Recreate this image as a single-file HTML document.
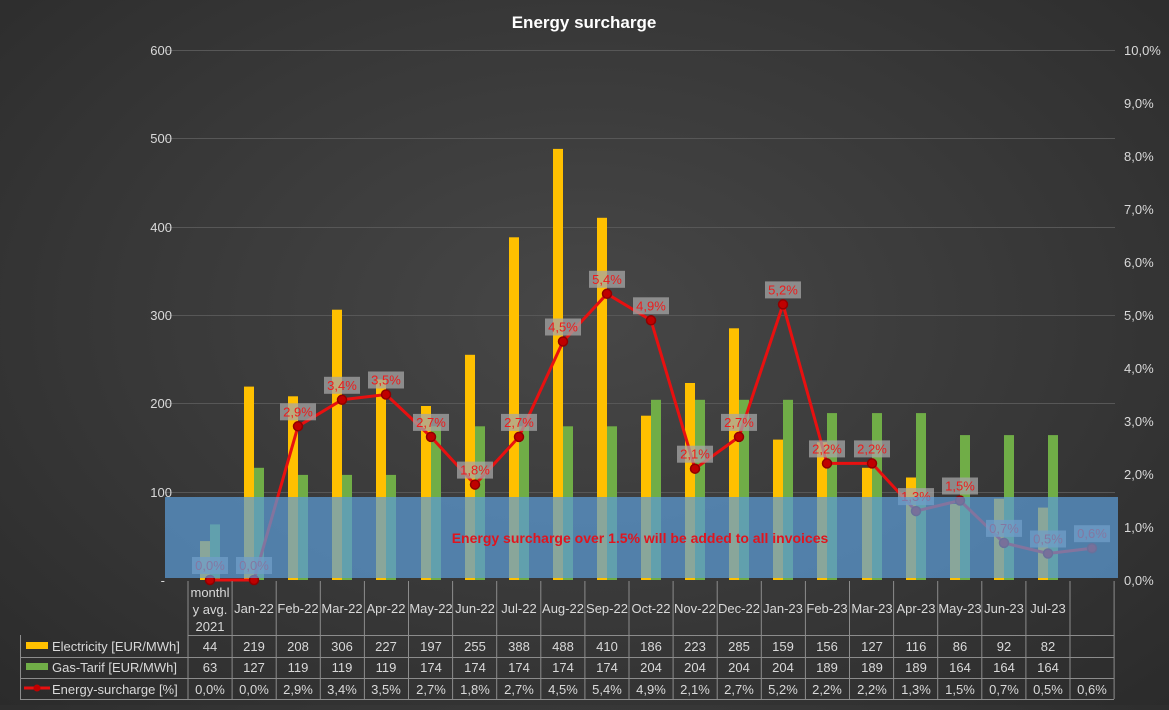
<!DOCTYPE html>
<html><head><meta charset="utf-8"><style>
html,body{margin:0;padding:0;}
body{width:1169px;height:705px;overflow:hidden;background:radial-gradient(ellipse at 50% 45%,#474747 0%,#383838 55%,#2b2b2b 100%);font-family:"Liberation Sans",sans-serif;}
</style></head><body>
<svg width="1169" height="705" xmlns="http://www.w3.org/2000/svg" font-family="Liberation Sans, sans-serif">
<text x="584" y="28" fill="#ffffff" font-size="17" font-weight="bold" text-anchor="middle">Energy surcharge</text>
<g stroke="#575757" stroke-width="1">
<line x1="165" y1="50.5" x2="1115" y2="50.5"/><line x1="165" y1="138.5" x2="1115" y2="138.5"/>
<line x1="165" y1="227.5" x2="1115" y2="227.5"/><line x1="165" y1="315.5" x2="1115" y2="315.5"/>
<line x1="165" y1="403.5" x2="1115" y2="403.5"/><line x1="165" y1="492.5" x2="1115" y2="492.5"/>
</g>
<g fill="#d9d9d9" font-size="13" text-anchor="end">
<text x="172" y="55">600</text><text x="172" y="143">500</text><text x="172" y="232">400</text>
<text x="172" y="320">300</text><text x="172" y="408">200</text><text x="172" y="497">100</text><text x="165" y="585">-</text>
</g>
<g fill="#d9d9d9" font-size="13">
<text x="1124" y="55">10,0%</text><text x="1124" y="108">9,0%</text><text x="1124" y="161">8,0%</text>
<text x="1124" y="214">7,0%</text><text x="1124" y="267">6,0%</text><text x="1124" y="320">5,0%</text>
<text x="1124" y="373">4,0%</text><text x="1124" y="426">3,0%</text><text x="1124" y="479">2,0%</text>
<text x="1124" y="532">1,0%</text><text x="1124" y="585">0,0%</text>
</g>
<g fill="#ffc000">
<rect x="200" y="541.1" width="10" height="38.9"/>
<rect x="244" y="386.6" width="10" height="193.4"/>
<rect x="288" y="396.3" width="10" height="183.7"/>
<rect x="332" y="309.7" width="10" height="270.3"/>
<rect x="376" y="379.5" width="10" height="200.5"/>
<rect x="421" y="406" width="10" height="174"/>
<rect x="465" y="354.8" width="10" height="225.2"/>
<rect x="509" y="237.3" width="10" height="342.7"/>
<rect x="553" y="148.9" width="10" height="431.1"/>
<rect x="597" y="217.8" width="10" height="362.2"/>
<rect x="641" y="415.7" width="10" height="164.3"/>
<rect x="685" y="383" width="10" height="197"/>
<rect x="729" y="328.3" width="10" height="251.7"/>
<rect x="773" y="439.6" width="10" height="140.4"/>
<rect x="817" y="442.2" width="10" height="137.8"/>
<rect x="862" y="467.8" width="10" height="112.2"/>
<rect x="906" y="477.5" width="10" height="102.5"/>
<rect x="950" y="504" width="10" height="76"/>
<rect x="994" y="498.7" width="10" height="81.3"/>
<rect x="1038" y="507.6" width="10" height="72.4"/>
</g>
<g fill="#70ad47">
<rect x="210" y="524.4" width="10" height="55.6"/>
<rect x="254" y="467.8" width="10" height="112.2"/>
<rect x="298" y="474.9" width="10" height="105.1"/>
<rect x="342" y="474.9" width="10" height="105.1"/>
<rect x="386" y="474.9" width="10" height="105.1"/>
<rect x="431" y="426.3" width="10" height="153.7"/>
<rect x="475" y="426.3" width="10" height="153.7"/>
<rect x="519" y="426.3" width="10" height="153.7"/>
<rect x="563" y="426.3" width="10" height="153.7"/>
<rect x="607" y="426.3" width="10" height="153.7"/>
<rect x="651" y="399.8" width="10" height="180.2"/>
<rect x="695" y="399.8" width="10" height="180.2"/>
<rect x="739" y="399.8" width="10" height="180.2"/>
<rect x="783" y="399.8" width="10" height="180.2"/>
<rect x="827" y="413.1" width="10" height="166.9"/>
<rect x="872" y="413.1" width="10" height="166.9"/>
<rect x="916" y="413.1" width="10" height="166.9"/>
<rect x="960" y="435.1" width="10" height="144.9"/>
<rect x="1004" y="435.1" width="10" height="144.9"/>
<rect x="1048" y="435.1" width="10" height="144.9"/>
</g>
<polyline points="210,580 254,580 298,426.3 342,399.8 386,394.5 431,436.9 475,484.6 519,436.9 563,341.5 607,293.8 651,320.3 695,468.7 739,436.9 783,304.4 827,463.4 872,463.4 916,511.1 960,500.5 1004,542.9 1048,553.5 1092,548.2" fill="none" stroke="#e81010" stroke-width="3" stroke-linejoin="round"/>
<g fill="#c00000" stroke="#900000" stroke-width="1.5">
<circle cx="210" cy="580" r="4.5"/><circle cx="254" cy="580" r="4.5"/><circle cx="298" cy="426.3" r="4.5"/>
<circle cx="342" cy="399.8" r="4.5"/><circle cx="386" cy="394.5" r="4.5"/><circle cx="431" cy="436.9" r="4.5"/>
<circle cx="475" cy="484.6" r="4.5"/><circle cx="519" cy="436.9" r="4.5"/><circle cx="563" cy="341.5" r="4.5"/>
<circle cx="607" cy="293.8" r="4.5"/><circle cx="651" cy="320.3" r="4.5"/><circle cx="695" cy="468.7" r="4.5"/>
<circle cx="739" cy="436.9" r="4.5"/><circle cx="783" cy="304.4" r="4.5"/><circle cx="827" cy="463.4" r="4.5"/>
<circle cx="872" cy="463.4" r="4.5"/><circle cx="916" cy="511.1" r="4.5"/><circle cx="960" cy="500.5" r="4.5"/>
<circle cx="1004" cy="542.9" r="4.5"/><circle cx="1048" cy="553.5" r="4.5"/><circle cx="1092" cy="548.2" r="4.5"/>
</g>
<g fill="#a6a6a6" fill-opacity="0.75">
<rect x="192" y="557" width="36" height="17"/><rect x="236" y="557" width="36" height="17"/>
<rect x="280" y="403.3" width="36" height="17"/><rect x="324" y="376.8" width="36" height="17"/>
<rect x="368" y="371.5" width="36" height="17"/><rect x="413" y="413.9" width="36" height="17"/>
<rect x="457" y="461.6" width="36" height="17"/><rect x="501" y="413.9" width="36" height="17"/>
<rect x="545" y="318.5" width="36" height="17"/><rect x="589" y="270.8" width="36" height="17"/>
<rect x="633" y="297.3" width="36" height="17"/><rect x="677" y="445.7" width="36" height="17"/>
<rect x="721" y="413.9" width="36" height="17"/><rect x="765" y="281.4" width="36" height="17"/>
<rect x="809" y="440.4" width="36" height="17"/><rect x="854" y="440.4" width="36" height="17"/>
<rect x="898" y="488.1" width="36" height="17"/><rect x="942" y="477.5" width="36" height="17"/>
<rect x="986" y="519.9" width="36" height="17"/><rect x="1030" y="530.5" width="36" height="17"/>
<rect x="1074" y="525.2" width="36" height="17"/>
</g>
<g fill="#ee1c1c" font-size="13" text-anchor="middle">
<text x="210" y="570">0,0%</text><text x="254" y="570">0,0%</text><text x="298" y="416.3">2,9%</text>
<text x="342" y="389.8">3,4%</text><text x="386" y="384.5">3,5%</text><text x="431" y="426.9">2,7%</text>
<text x="475" y="474.6">1,8%</text><text x="519" y="426.9">2,7%</text><text x="563" y="331.5">4,5%</text>
<text x="607" y="283.8">5,4%</text><text x="651" y="310.3">4,9%</text><text x="695" y="458.7">2,1%</text>
<text x="739" y="426.9">2,7%</text><text x="783" y="294.4">5,2%</text><text x="827" y="453.4">2,2%</text>
<text x="872" y="453.4">2,2%</text><text x="916" y="501.1">1,3%</text><text x="960" y="490.5">1,5%</text>
<text x="1004" y="532.9">0,7%</text><text x="1048" y="543.5">0,5%</text><text x="1092" y="538.2">0,6%</text>
</g>
<rect x="165" y="497" width="953" height="81" fill="#5b9bd5" fill-opacity="0.72"/>
<text x="640" y="543" fill="#e0141e" font-size="14" font-weight="bold" text-anchor="middle">Energy surcharge over 1.5% will be added to all invoices</text>
<g stroke="#8c8c8c" stroke-width="1" fill="none">
<path d="M188 581V699M232.1 581V699M276.2 581V699M320.3 581V699M364.4 581V699M408.5 581V699M452.6 581V699M496.7 581V699M540.8 581V699M584.9 581V699M629 581V699M673.1 581V699M717.2 581V699M761.3 581V699M805.4 581V699M849.5 581V699M893.6 581V699M937.7 581V699M981.8 581V699M1025.9 581V699M1070 581V699M1114.1 581V699"/>
<path d="M188 635.5H1114M20 657.5H1114M20 678.5H1114M20 699.5H1114M20.5 635V699"/>
</g>
<g fill="#d9d9d9" font-size="13" text-anchor="middle">
<text x="210" y="597">monthl</text><text x="210" y="614">y avg.</text><text x="210" y="631">2021</text>
<text x="254" y="613">Jan-22</text><text x="298" y="613">Feb-22</text><text x="342" y="613">Mar-22</text><text x="386" y="613">Apr-22</text>
<text x="431" y="613">May-22</text><text x="475" y="613">Jun-22</text><text x="519" y="613">Jul-22</text><text x="563" y="613">Aug-22</text>
<text x="607" y="613">Sep-22</text><text x="651" y="613">Oct-22</text><text x="695" y="613">Nov-22</text><text x="739" y="613">Dec-22</text>
<text x="783" y="613">Jan-23</text><text x="827" y="613">Feb-23</text><text x="872" y="613">Mar-23</text><text x="916" y="613">Apr-23</text>
<text x="960" y="613">May-23</text><text x="1004" y="613">Jun-23</text><text x="1048" y="613">Jul-23</text>
<text x="210" y="651">44</text><text x="254" y="651">219</text><text x="298" y="651">208</text><text x="342" y="651">306</text>
<text x="386" y="651">227</text><text x="431" y="651">197</text><text x="475" y="651">255</text><text x="519" y="651">388</text>
<text x="563" y="651">488</text><text x="607" y="651">410</text><text x="651" y="651">186</text><text x="695" y="651">223</text>
<text x="739" y="651">285</text><text x="783" y="651">159</text><text x="827" y="651">156</text><text x="872" y="651">127</text>
<text x="916" y="651">116</text><text x="960" y="651">86</text><text x="1004" y="651">92</text><text x="1048" y="651">82</text>
<text x="210" y="672">63</text><text x="254" y="672">127</text><text x="298" y="672">119</text><text x="342" y="672">119</text>
<text x="386" y="672">119</text><text x="431" y="672">174</text><text x="475" y="672">174</text><text x="519" y="672">174</text>
<text x="563" y="672">174</text><text x="607" y="672">174</text><text x="651" y="672">204</text><text x="695" y="672">204</text>
<text x="739" y="672">204</text><text x="783" y="672">204</text><text x="827" y="672">189</text><text x="872" y="672">189</text>
<text x="916" y="672">189</text><text x="960" y="672">164</text><text x="1004" y="672">164</text><text x="1048" y="672">164</text>
<text x="210" y="694">0,0%</text><text x="254" y="694">0,0%</text><text x="298" y="694">2,9%</text><text x="342" y="694">3,4%</text>
<text x="386" y="694">3,5%</text><text x="431" y="694">2,7%</text><text x="475" y="694">1,8%</text><text x="519" y="694">2,7%</text>
<text x="563" y="694">4,5%</text><text x="607" y="694">5,4%</text><text x="651" y="694">4,9%</text><text x="695" y="694">2,1%</text>
<text x="739" y="694">2,7%</text><text x="783" y="694">5,2%</text><text x="827" y="694">2,2%</text><text x="872" y="694">2,2%</text>
<text x="916" y="694">1,3%</text><text x="960" y="694">1,5%</text><text x="1004" y="694">0,7%</text><text x="1048" y="694">0,5%</text>
<text x="1092" y="694">0,6%</text>
</g>
<g fill="#d9d9d9" font-size="13">
<rect x="26" y="642" width="22" height="7" fill="#ffc000"/><text x="52" y="651">Electricity  [EUR/MWh]</text>
<rect x="26" y="663" width="22" height="7" fill="#70ad47"/><text x="52" y="672">Gas-Tarif [EUR/MWh]</text>
<line x1="24" y1="688" x2="50" y2="688" stroke="#e81010" stroke-width="3"/><circle cx="37" cy="688" r="3.5" fill="#c00000"/><text x="52" y="694">Energy-surcharge [%]</text>
</g>
</svg>
</body></html>
